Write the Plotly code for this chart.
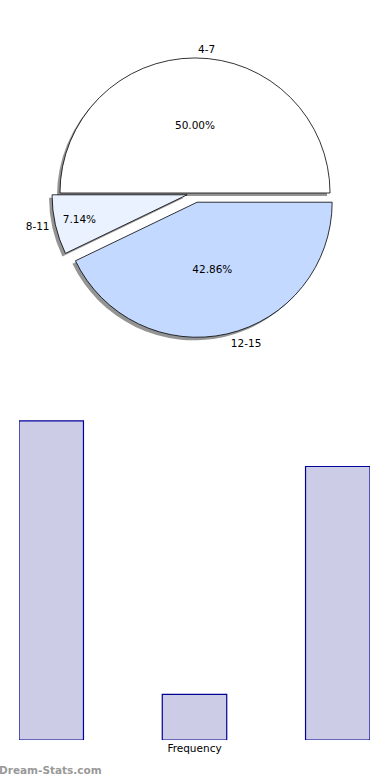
import plotly.graph_objects as go

categories = ["4-7", "8-11", "12-15"]
frequency = [7, 1, 6]
pie_colors = ["#ffffff", "#ebf2ff", "#c4d9ff"]
pulls = [0, 0.06, 0.07]

W, H = 390, 780

def px_dom(x0, x1):
    return [x0 / W, x1 / W]

def py_dom(top, bottom):
    return [1 - bottom / H, 1 - top / H]

r_half = 144.5
cx, cy = 195, 193
shadow_dx, shadow_dy = -3, 3
label_half = r_half + 3

common = dict(labels=categories, values=frequency, sort=False,
              direction="counterclockwise", rotation=-90, pull=pulls,
              showlegend=False)
txtfont = dict(family="DejaVu Sans", size=10.5, color="#000000")

fig = go.Figure()

# invisible pie carrying the outside category labels
fig.add_trace(go.Pie(
    **common,
    marker=dict(colors=["rgba(0,0,0,0)"] * 3, line=dict(width=0)),
    textinfo="label", textposition="outside", textfont=txtfont,
    domain=dict(x=px_dom(cx - label_half, cx + label_half),
                y=py_dom(cy - label_half, cy + label_half)),
    hoverinfo="skip",
))

# shadow pie
fig.add_trace(go.Pie(
    **common,
    marker=dict(colors=["rgba(0,0,0,0.42)"] * 3, line=dict(width=0)),
    textinfo="none",
    domain=dict(x=px_dom(cx - r_half + shadow_dx, cx + r_half + shadow_dx),
                y=py_dom(cy - r_half + shadow_dy, cy + r_half + shadow_dy)),
    hoverinfo="skip",
))

# main pie
fig.add_trace(go.Pie(
    **common,
    marker=dict(colors=pie_colors, line=dict(color="#000000", width=0.8)),
    texttemplate="%{percent:.2%}", textposition="inside",
    insidetextorientation="horizontal", textfont=txtfont,
    domain=dict(x=px_dom(cx - r_half, cx + r_half),
                y=py_dom(cy - r_half, cy + r_half)),
))

fig.add_trace(go.Bar(
    x=categories, y=frequency, width=0.45,
    marker=dict(color="#ccccE6", line=dict(color="#000099", width=1.2)),
    xaxis="x", yaxis="y", showlegend=False,
))

fig.update_layout(
    width=W, height=H,
    margin=dict(l=0, r=0, t=0, b=0),
    paper_bgcolor="white", plot_bgcolor="white",
    font=dict(family="DejaVu Sans", size=10.5, color="#000000"),
    xaxis=dict(domain=px_dom(19, 370), range=[-0.225, 2.225],
               showticklabels=False, ticks="", showgrid=False,
               zeroline=False, showline=False,
               title=dict(text="Frequency", standoff=4,
                          font=dict(family="DejaVu Sans", size=10.5))),
    yaxis=dict(domain=py_dom(410, 740), range=[0, 7.24],
               showticklabels=False, ticks="", showgrid=False,
               zeroline=False, showline=False),
    annotations=[dict(
        text="<b>Dream-Stats.com</b>", x=-0.004, y=1 - 770 / H,
        xref="paper", yref="paper", xanchor="left", yanchor="middle",
        showarrow=False, borderpad=0,
        font=dict(family="DejaVu Sans", size=10.5, color="#999999"),
    )],
)

fig.write_html("out.html", config={"displayModeBar": False},
               post_script="document.body.style.margin='0';")
